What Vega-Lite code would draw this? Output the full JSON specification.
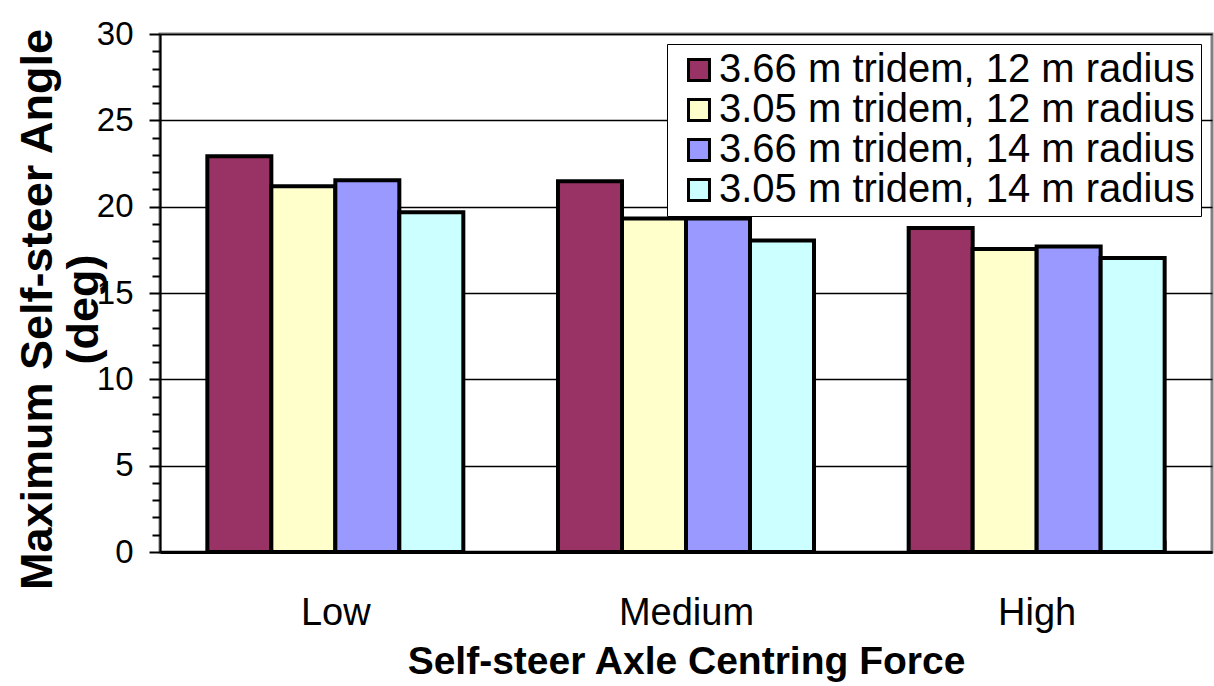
{
  "$schema": "https://vega.github.io/schema/vega-lite/v6.json",
  "width": 1052,
  "height": 518,
  "autosize": {"type": "none"},
  "padding": {"left": 160, "top": 34, "right": 2, "bottom": 134},
  "background": "white",
  "config": {
    "font": "Liberation Sans",
    "view": {"stroke": "#808080", "strokeWidth": 3},
    "axis": {"labelFont": "Liberation Sans", "titleFont": "Liberation Sans", "labelColor": "black", "titleColor": "black", "tickColor": "black", "domainColor": "black"},
    "legend": {"labelFont": "Liberation Sans", "labelColor": "black"}
  },
  "data": {
    "values": [
      {"force": "Low", "series": "3.66 m tridem, 12 m radius", "angle": 22.92},
      {"force": "Low", "series": "3.05 m tridem, 12 m radius", "angle": 21.18},
      {"force": "Low", "series": "3.66 m tridem, 14 m radius", "angle": 21.53},
      {"force": "Low", "series": "3.05 m tridem, 14 m radius", "angle": 19.68},
      {"force": "Medium", "series": "3.66 m tridem, 12 m radius", "angle": 21.47},
      {"force": "Medium", "series": "3.05 m tridem, 12 m radius", "angle": 19.31},
      {"force": "Medium", "series": "3.66 m tridem, 14 m radius", "angle": 19.31},
      {"force": "Medium", "series": "3.05 m tridem, 14 m radius", "angle": 18.04},
      {"force": "High", "series": "3.66 m tridem, 12 m radius", "angle": 18.77},
      {"force": "High", "series": "3.05 m tridem, 12 m radius", "angle": 17.55},
      {"force": "High", "series": "3.66 m tridem, 14 m radius", "angle": 17.69},
      {"force": "High", "series": "3.05 m tridem, 14 m radius", "angle": 17.03}
    ]
  },
  "layer": [
    {
      "mark": {"type": "bar", "stroke": "black", "strokeWidth": 4},
      "encoding": {
        "x": {
          "field": "force", "type": "nominal", "sort": ["Low", "Medium", "High"],
          "scale": {"paddingInner": 0.27, "paddingOuter": 0.135},
          "axis": {
            "title": "Self-steer Axle Centring Force", "labelAngle": 0, "labelFontSize": 38,
            "titleFontSize": 39, "titleFontWeight": "bold", "tickBand": "extent", "tickSize": -12,
            "tickWidth": 2, "domainWidth": 3, "labelPadding": 54, "titleBaseline": "alphabetic", "titleY": 121
          }
        },
        "xOffset": {
          "field": "series", "type": "nominal",
          "sort": ["3.66 m tridem, 12 m radius", "3.05 m tridem, 12 m radius", "3.66 m tridem, 14 m radius", "3.05 m tridem, 14 m radius"],
          "scale": {"paddingInner": 0, "paddingOuter": 0}
        },
        "y": {
          "field": "angle", "type": "quantitative",
          "scale": {"domain": [0, 30], "nice": false},
          "axis": {
            "title": ["Maximum Self-steer Angle", "(deg)"], "values": [0, 5, 10, 15, 20, 25, 30],
            "labelFontSize": 33, "tickSize": 11, "tickWidth": 2, "labelPadding": 16, "domainWidth": 2,
            "grid": true, "gridColor": "black", "gridWidth": 1.5,
            "titleFontSize": 45, "titleFontWeight": "bold", "titleLineHeight": 46, "titleAngle": -90,
            "titleBaseline": "middle", "titleAlign": "center", "titleX": -123, "titleY": 275
          }
        },
        "color": {
          "field": "series", "type": "nominal",
          "scale": {
            "domain": ["3.66 m tridem, 12 m radius", "3.05 m tridem, 12 m radius", "3.66 m tridem, 14 m radius", "3.05 m tridem, 14 m radius"],
            "range": ["#993366", "#FFFFCC", "#9999FF", "#CCFFFF"]
          },
          "legend": {
            "title": null, "orient": "none", "legendX": 507, "legendY": 10, "labelFontSize": 40,
            "symbolType": "square", "symbolSize": 440, "symbolStrokeColor": "black", "symbolStrokeWidth": 3,
            "fillColor": "white", "strokeColor": "black", "padding": 6, "symbolOffset": 6, "labelOffset": 0,
            "rowPadding": 0, "labelLimit": 0
          }
        }
      }
    },
    {
      "mark": {"type": "rule", "opacity": 0},
      "encoding": {
        "y": {
          "field": "angle", "type": "quantitative",
          "axis": {
            "orient": "left", "title": null, "labels": false, "domain": false, "grid": false,
            "values": [1, 2, 3, 4, 6, 7, 8, 9, 11, 12, 13, 14, 16, 17, 18, 19, 21, 22, 23, 24, 26, 27, 28, 29],
            "tickSize": 8, "tickWidth": 2
          }
        }
      }
    }
  ],
  "resolve": {"axis": {"y": "independent"}}
}
